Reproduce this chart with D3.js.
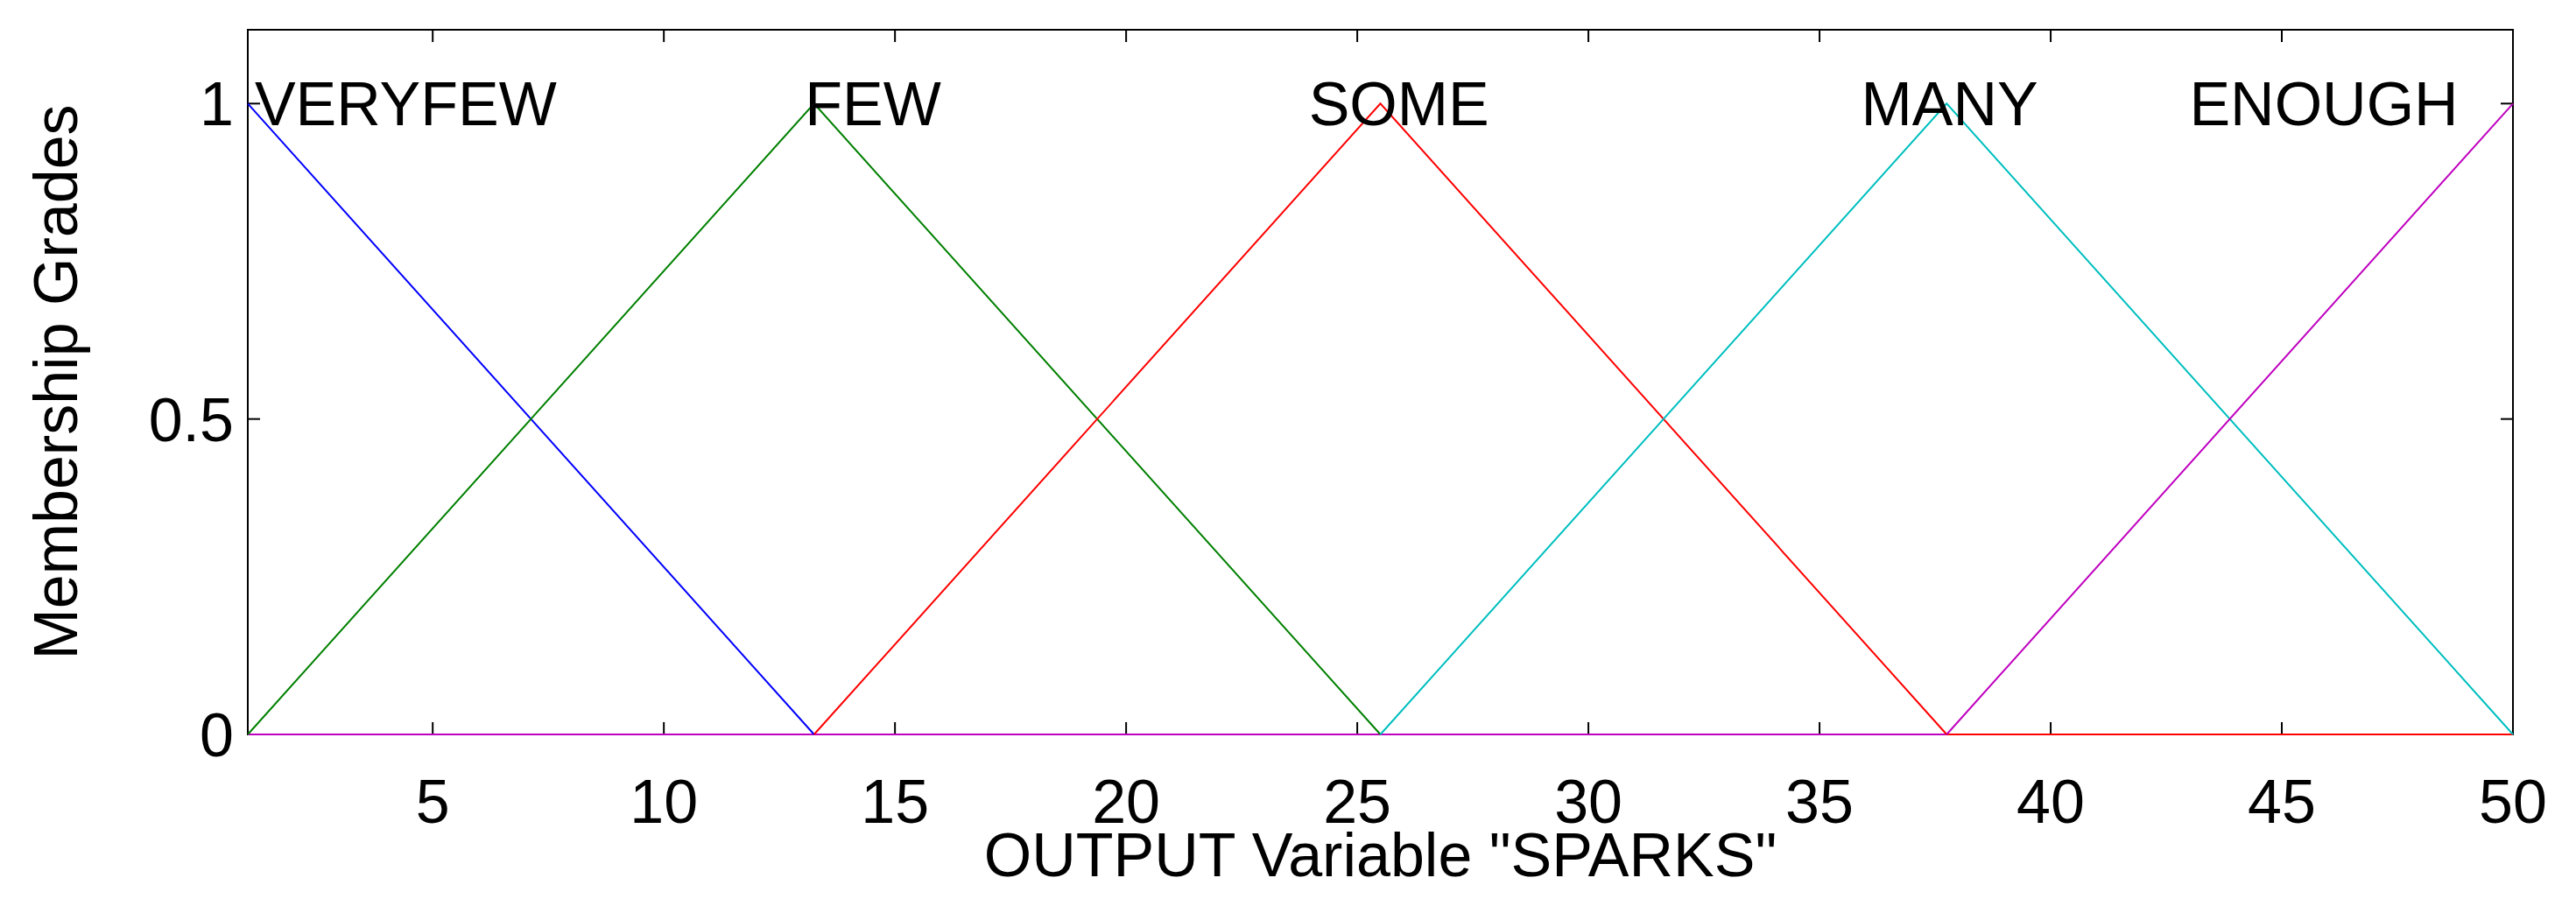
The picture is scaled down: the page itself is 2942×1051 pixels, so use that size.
<!DOCTYPE html>
<html><head><meta charset="utf-8">
<script src="https://cdn.jsdelivr.net/npm/d3@7"></script>
<style>body{margin:0;background:#fff}svg{display:block}text{font-family:"Liberation Sans",Arial,sans-serif;fill:#000}</style>
</head><body><svg id="c" width="2942" height="1051"></svg>
<script>
const mfNames = ["VERYFEW","FEW","SOME","MANY","ENOUGH"];
const mfParams = [[-11.25,1,13.25],[1,13.25,25.5],[13.25,25.5,37.75],[25.5,37.75,50],[37.75,50,62.25]];
const mfColors = ["#0000ff","#008000","#ff0000","#00bfbf","#bf00bf"];
const labelX = [1.15,13.05,23.95,35.9,43.0];
const xTicks = [5,10,15,20,25,30,35,40,45,50];
const yTicks = [0,0.5,1];
const xTitle = 'OUTPUT Variable "SPARKS"';
const yTitle = 'Membership Grades';

const svg = d3.select("#c");
const L=283,R=2870,T=34,B=839;
const FS=70;
const x=d3.scaleLinear().domain([1,50]).range([L,R]);
const y=d3.scaleLinear().domain([0,1.117]).range([B,T]);
const tri=(p,v)=>Math.max(0,Math.min((v-p[0])/(p[1]-p[0]),(p[2]-v)/(p[2]-p[1])));

svg.append("rect").attr("x",L).attr("y",T).attr("width",R-L).attr("height",B-T).attr("fill","none").attr("stroke","#000").attr("stroke-width",2);
xTicks.forEach(t=>{
  svg.append("line").attr("x1",x(t)).attr("x2",x(t)).attr("y1",B).attr("y2",B-14).attr("stroke","#000").attr("stroke-width",2);
  svg.append("line").attr("x1",x(t)).attr("x2",x(t)).attr("y1",T).attr("y2",T+14).attr("stroke","#000").attr("stroke-width",2);
  svg.append("text").attr("x",x(t)).attr("y",940).attr("text-anchor","middle").attr("font-size",FS).text(t);
});
yTicks.forEach(t=>{
  svg.append("line").attr("x1",L).attr("x2",L+14).attr("y1",y(t)).attr("y2",y(t)).attr("stroke","#000").attr("stroke-width",2);
  svg.append("line").attr("x1",R).attr("x2",R-14).attr("y1",y(t)).attr("y2",y(t)).attr("stroke","#000").attr("stroke-width",2);
  svg.append("text").attr("x",L-16).attr("y",y(t)+25).attr("text-anchor","end").attr("font-size",FS).text(t);
});
const line=d3.line().x(d=>x(d[0])).y(d=>y(d[1]));
svg.append("path").attr("d",line([[1,0],[37.75,0]])).attr("stroke",mfColors[4]).attr("stroke-width",2).attr("fill","none");
svg.append("path").attr("d",line([[37.75,0],[50,0]])).attr("stroke",mfColors[2]).attr("stroke-width",2).attr("fill","none");
mfParams.forEach((p,i)=>{
  const pts=[[Math.max(1,p[0]),tri(p,Math.max(1,p[0]))],[p[1],1],[Math.min(50,p[2]),tri(p,Math.min(50,p[2]))]];
  svg.append("path").attr("d",line(pts)).attr("stroke",mfColors[i]).attr("stroke-width",2).attr("fill","none");
  svg.append("text").attr("x",x(labelX[i])).attr("y",y(1)+25).attr("font-size",FS).text(mfNames[i]);
});
svg.append("text").attr("x",(L+R)/2).attr("y",1001).attr("text-anchor","middle").attr("font-size",FS).text(xTitle);
svg.append("text").attr("transform",`translate(88,${(T+B)/2}) rotate(-90)`).attr("text-anchor","middle").attr("font-size",FS).text(yTitle);
</script></body></html>
